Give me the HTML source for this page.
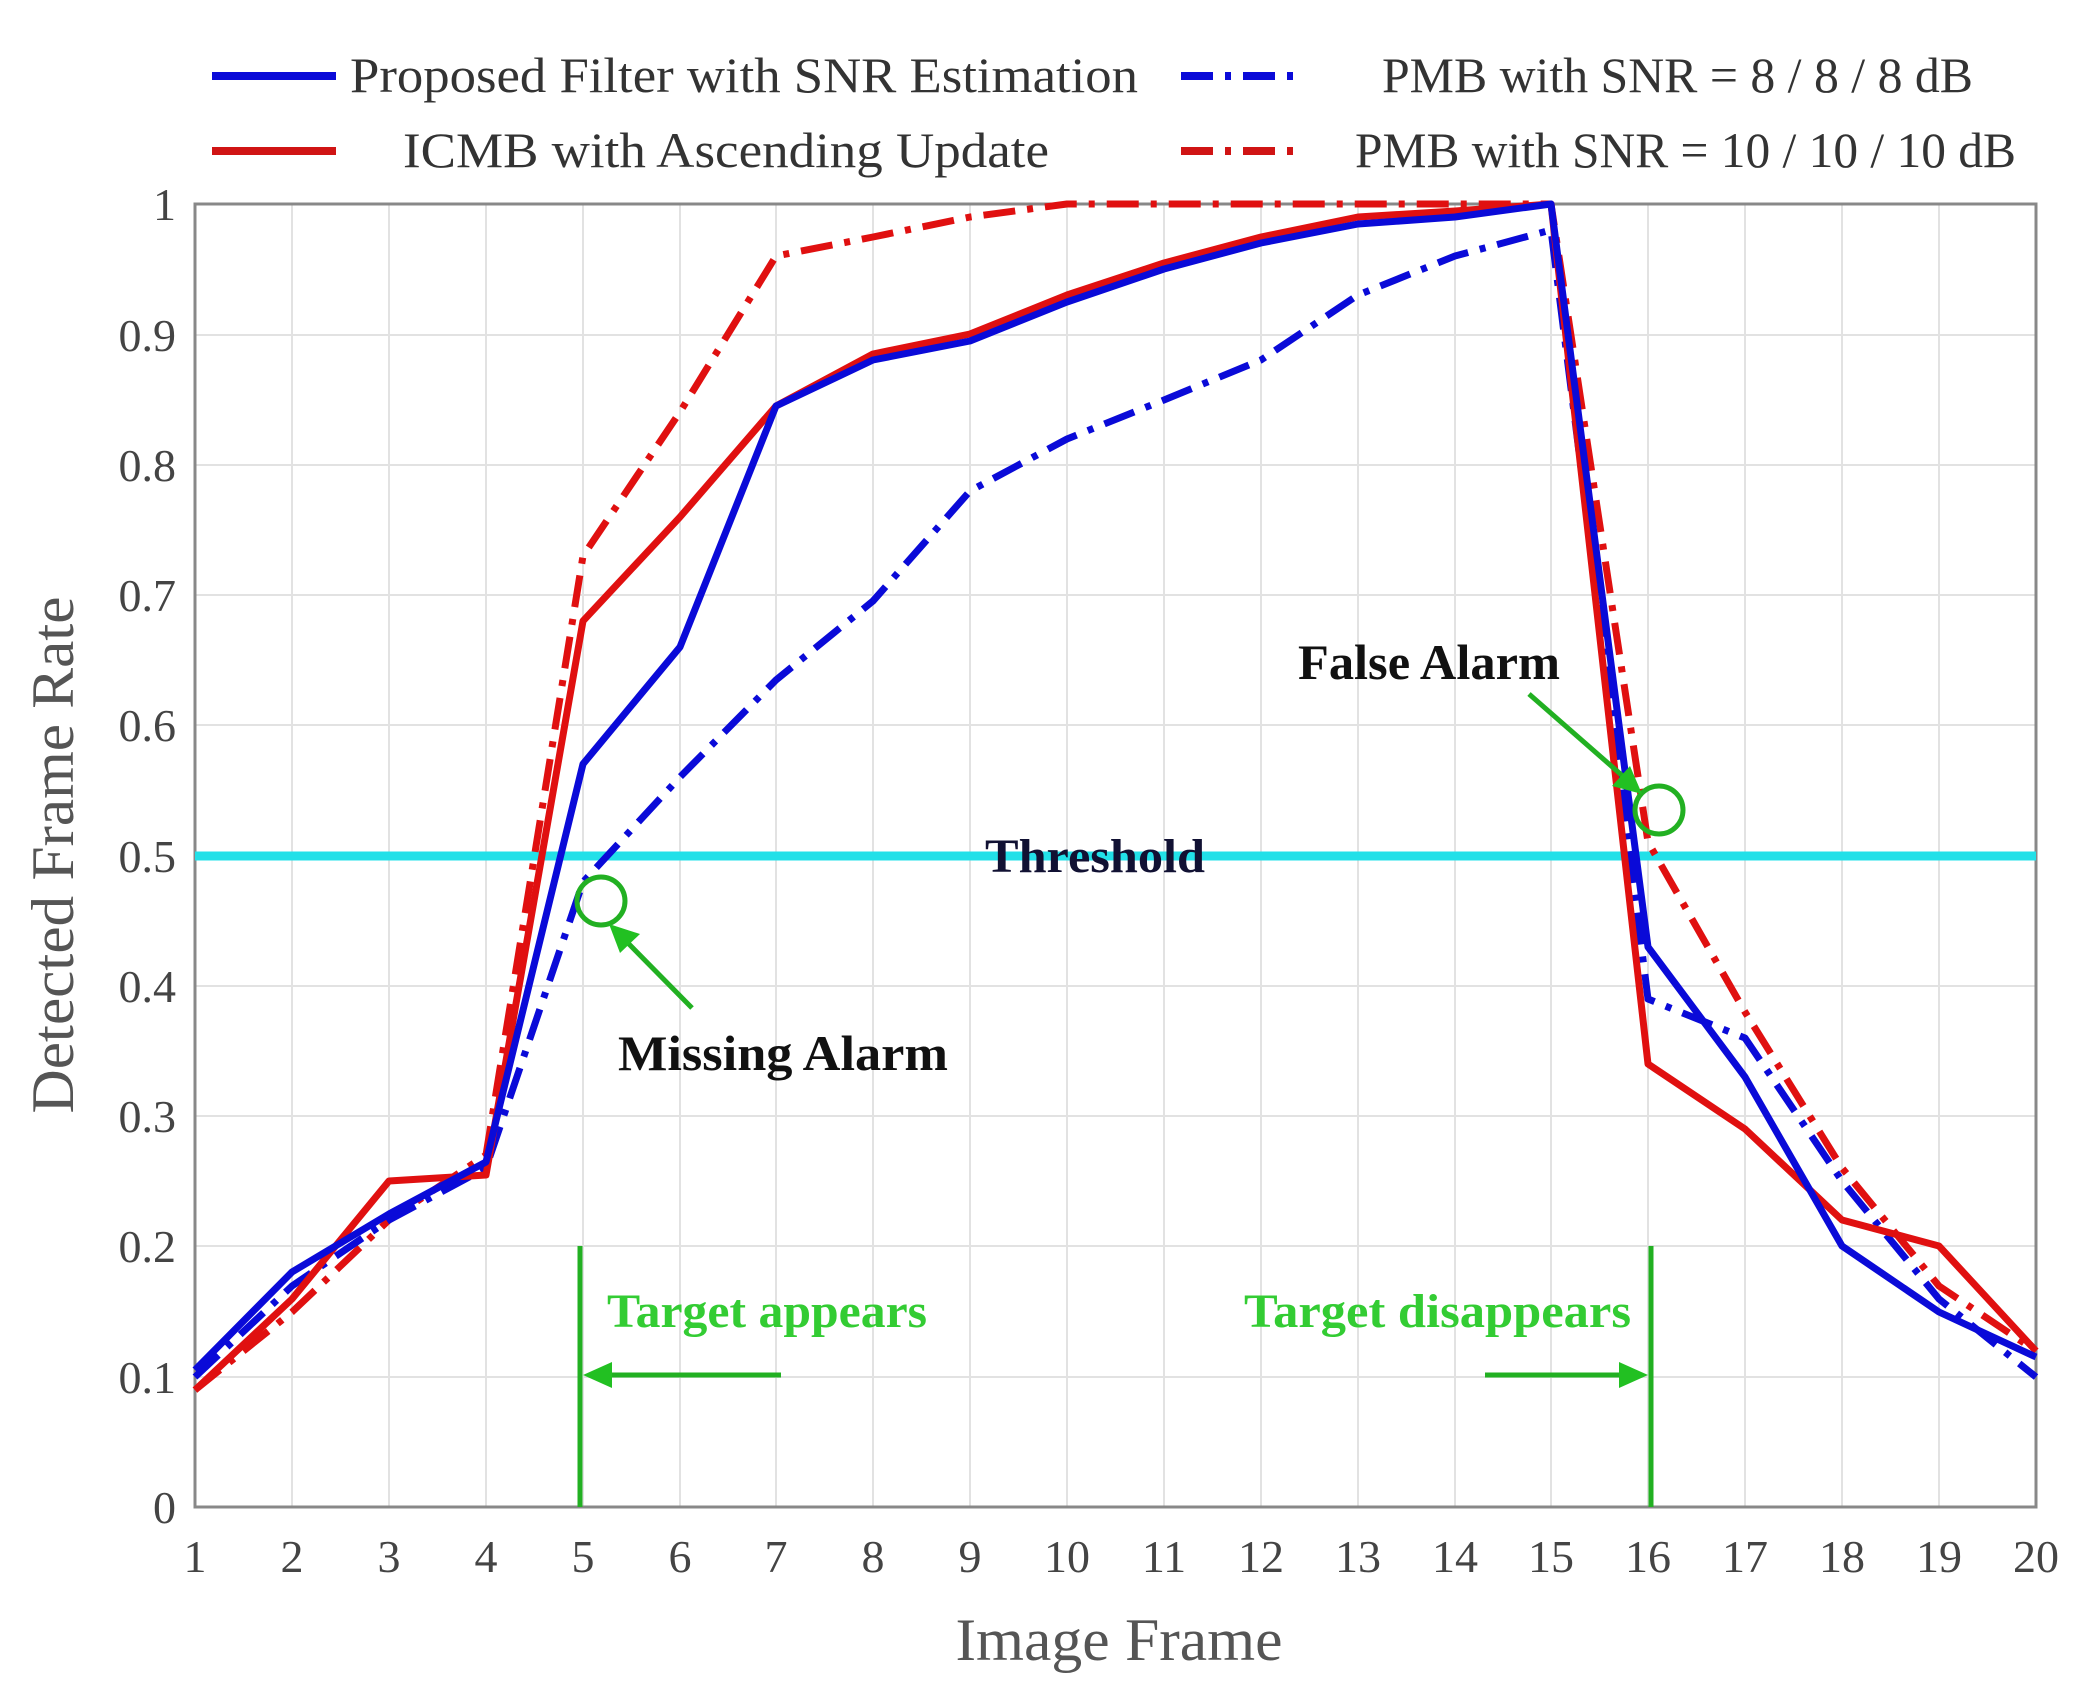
<!DOCTYPE html>
<html><head><meta charset="utf-8"><style>
html,body{margin:0;padding:0;background:#fff}
svg{display:block}
text{font-family:"Liberation Serif",serif}
</style></head><body>
<svg width="2082" height="1694" viewBox="0 0 2082 1694" xmlns="http://www.w3.org/2000/svg">
<rect width="2082" height="1694" fill="#fff"/>
<g id="grid" stroke="#e2e2e2" stroke-width="2">
<line x1="292" y1="204" x2="292" y2="1507"/><line x1="389" y1="204" x2="389" y2="1507"/><line x1="486" y1="204" x2="486" y2="1507"/><line x1="583" y1="204" x2="583" y2="1507"/><line x1="680" y1="204" x2="680" y2="1507"/><line x1="776" y1="204" x2="776" y2="1507"/><line x1="873" y1="204" x2="873" y2="1507"/><line x1="970" y1="204" x2="970" y2="1507"/><line x1="1067" y1="204" x2="1067" y2="1507"/><line x1="1164" y1="204" x2="1164" y2="1507"/><line x1="1261" y1="204" x2="1261" y2="1507"/><line x1="1358" y1="204" x2="1358" y2="1507"/><line x1="1455" y1="204" x2="1455" y2="1507"/><line x1="1551" y1="204" x2="1551" y2="1507"/><line x1="1648" y1="204" x2="1648" y2="1507"/><line x1="1745" y1="204" x2="1745" y2="1507"/><line x1="1842" y1="204" x2="1842" y2="1507"/><line x1="1939" y1="204" x2="1939" y2="1507"/>
<line x1="195" y1="335" x2="2036" y2="335"/><line x1="195" y1="465" x2="2036" y2="465"/><line x1="195" y1="595" x2="2036" y2="595"/><line x1="195" y1="725" x2="2036" y2="725"/><line x1="195" y1="856" x2="2036" y2="856"/><line x1="195" y1="986" x2="2036" y2="986"/><line x1="195" y1="1116" x2="2036" y2="1116"/><line x1="195" y1="1246" x2="2036" y2="1246"/><line x1="195" y1="1377" x2="2036" y2="1377"/>
</g>
<rect x="195" y="204" width="1841" height="1303" fill="none" stroke="#888" stroke-width="3"/>
<g font-size="46" fill="#444" text-anchor="end">
<text x="176" y="220">1</text><text x="176" y="351">0.9</text><text x="176" y="481">0.8</text><text x="176" y="611">0.7</text><text x="176" y="741">0.6</text><text x="176" y="872">0.5</text><text x="176" y="1002">0.4</text><text x="176" y="1132">0.3</text><text x="176" y="1262">0.2</text><text x="176" y="1393">0.1</text><text x="176" y="1523">0</text>
</g>
<g font-size="46" fill="#444" text-anchor="middle">
<text x="195" y="1572">1</text><text x="292" y="1572">2</text><text x="389" y="1572">3</text><text x="486" y="1572">4</text><text x="583" y="1572">5</text><text x="680" y="1572">6</text><text x="776" y="1572">7</text><text x="873" y="1572">8</text><text x="970" y="1572">9</text><text x="1067" y="1572">10</text><text x="1164" y="1572">11</text><text x="1261" y="1572">12</text><text x="1358" y="1572">13</text><text x="1455" y="1572">14</text><text x="1551" y="1572">15</text><text x="1648" y="1572">16</text><text x="1745" y="1572">17</text><text x="1842" y="1572">18</text><text x="1939" y="1572">19</text><text x="2036" y="1572">20</text>
</g>
<text x="1119" y="1660" font-size="60" fill="#555" text-anchor="middle" textLength="327" lengthAdjust="spacingAndGlyphs">Image Frame</text>
<text transform="translate(73,855) rotate(-90)" font-size="60" fill="#555" text-anchor="middle" textLength="517" lengthAdjust="spacingAndGlyphs">Detected Frame Rate</text>
<!-- threshold -->
<line x1="195" y1="856" x2="2036" y2="856" stroke="#22e0e8" stroke-width="9"/>
<text x="1095" y="872" font-size="48" font-weight="bold" fill="#113" text-anchor="middle" textLength="220" lengthAdjust="spacingAndGlyphs">Threshold</text>
<g fill="none" stroke-width="7" stroke-linejoin="round">
<polyline stroke="#e01010" stroke-dasharray="32 12 6 12" points="195,1390 292,1312 389,1220 486,1155 583,556 680,412 776,256 873,237 970,217 1067,204 1164,204 1261,204 1358,204 1455,204 1551,204 1648,842 1745,1012 1842,1168 1939,1286 2036,1351"/>
<polyline stroke="#0a0ad8" stroke-dasharray="32 12 6 12" points="195,1377 292,1286 389,1220 486,1168 583,882 680,777 776,680 873,601 970,491 1067,439 1164,400 1261,360 1358,295 1455,256 1551,230 1648,999 1745,1038 1842,1181 1939,1299 2036,1377"/>
<polyline stroke="#e01010" points="195,1390 292,1299 389,1181 486,1175 583,621 680,517 776,406 873,354 970,334 1067,295 1164,263 1261,237 1358,217 1455,211 1551,204 1648,1064 1745,1129 1842,1220 1939,1246 2036,1351"/>
<polyline stroke="#0a0ad8" points="195,1370 292,1272 389,1214 486,1162 583,764 680,647 776,406 873,360 970,341 1067,302 1164,269 1261,243 1358,224 1455,217 1551,204 1648,947 1745,1077 1842,1246 1939,1312 2036,1357"/>
</g>
<g stroke="#22b022" fill="none">
<line x1="580" y1="1246" x2="580" y2="1507" stroke-width="5"/>
<line x1="1651" y1="1246" x2="1651" y2="1507" stroke-width="5"/>
<line x1="781" y1="1375" x2="600" y2="1375" stroke-width="5"/>
<line x1="1485" y1="1375" x2="1630" y2="1375" stroke-width="5"/>
<circle cx="601" cy="901" r="24" stroke-width="5"/>
<circle cx="1659" cy="810" r="24" stroke-width="5"/>
<line x1="692" y1="1008" x2="625" y2="940" stroke-width="5"/>
<line x1="1529" y1="694" x2="1625" y2="778" stroke-width="5"/>
</g>
<g fill="#22c022">
<polygon points="583,1375 612,1362 612,1388"/>
<polygon points="1648,1375 1619,1362 1619,1388"/>
<polygon points="609,924 640,934 620,953"/>
<polygon points="1642,794 1612,786 1630,766"/>
</g>
<text x="607" y="1327" font-size="48" font-weight="bold" fill="#33cc33" textLength="320" lengthAdjust="spacingAndGlyphs">Target appears</text>
<text x="1244" y="1327" font-size="48" font-weight="bold" fill="#33cc33" textLength="387" lengthAdjust="spacingAndGlyphs">Target disappears</text>
<text x="618" y="1070" font-size="50" font-weight="bold" fill="#111" textLength="330" lengthAdjust="spacingAndGlyphs">Missing Alarm</text>
<text x="1298" y="679" font-size="50" font-weight="bold" fill="#111" textLength="262" lengthAdjust="spacingAndGlyphs">False Alarm</text>
<g stroke-width="8">
<line x1="212" y1="76" x2="336" y2="76" stroke="#0a0ad8"/>
<line x1="212" y1="151" x2="336" y2="151" stroke="#d01414"/>
<line x1="1181" y1="76" x2="1302" y2="76" stroke="#0a0ad8" stroke-dasharray="32 12 6 12"/>
<line x1="1181" y1="151" x2="1302" y2="151" stroke="#d01414" stroke-dasharray="32 12 6 12"/>
</g>
<g font-size="50" fill="#333" lengthAdjust="spacingAndGlyphs">
<text x="350" y="92" textLength="788" lengthAdjust="spacingAndGlyphs">Proposed Filter with SNR Estimation</text>
<text x="403" y="167" textLength="646" lengthAdjust="spacingAndGlyphs">ICMB with Ascending Update</text>
<text x="1382" y="92" textLength="591" lengthAdjust="spacingAndGlyphs">PMB with SNR = 8 / 8 / 8 dB</text>
<text x="1355" y="167" textLength="661" lengthAdjust="spacingAndGlyphs">PMB with SNR = 10 / 10 / 10 dB</text>
</g>
</svg>
</body></html>
